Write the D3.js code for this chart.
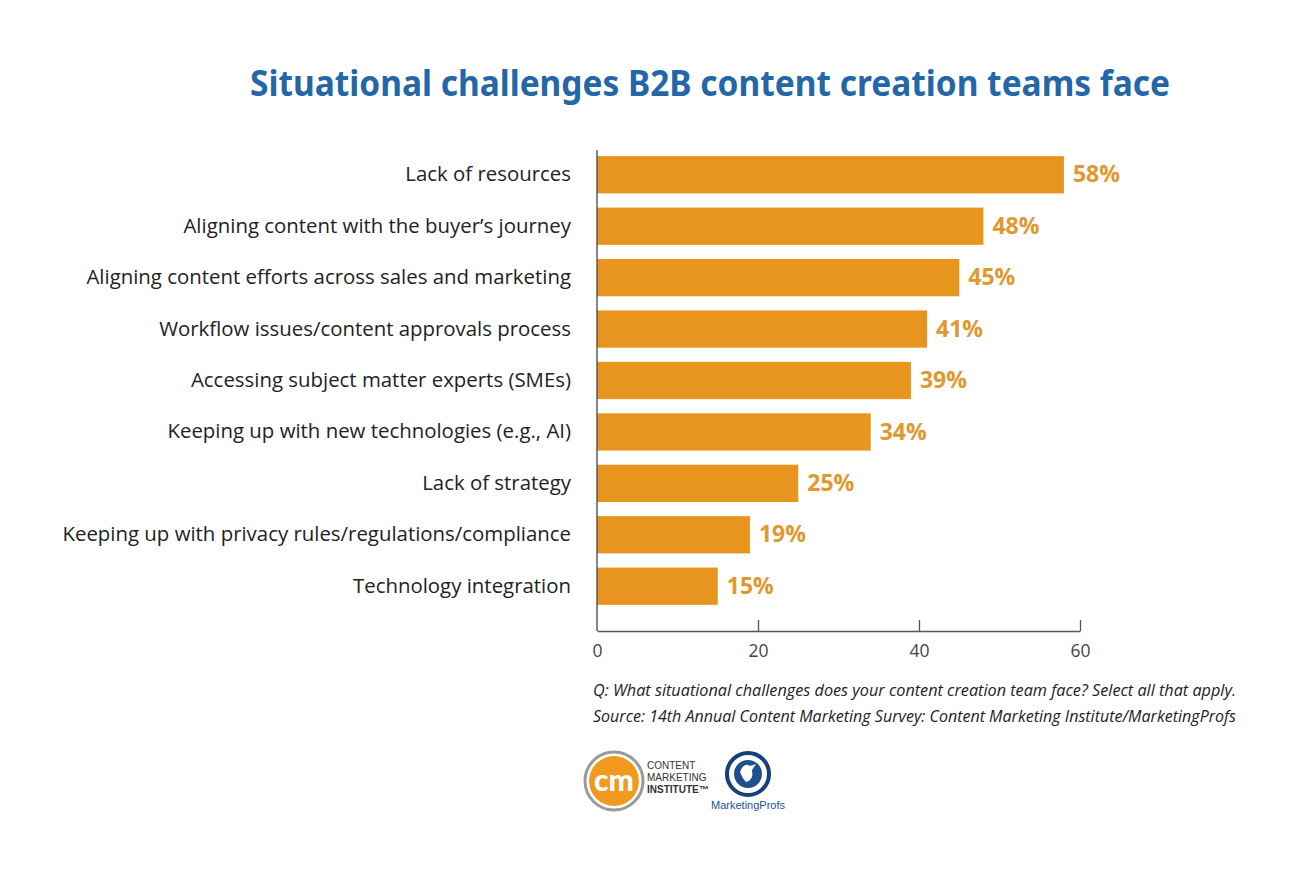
<!DOCTYPE html>
<html>
<head>
<meta charset="utf-8">
<script src="https://cdn.jsdelivr.net/npm/d3@7"></script>
<style>
  body { margin: 0; background: #fff; }
  svg { display: block; }
</style>
</head>
<body>
<div id="container"></div>
<script>
/* DATA */
const categories = [
  "Lack of resources",
  "Aligning content with the buyer’s journey",
  "Aligning content efforts across sales and marketing",
  "Workflow issues/content approvals process",
  "Accessing subject matter experts (SMEs)",
  "Keeping up with new technologies (e.g., AI)",
  "Lack of strategy",
  "Keeping up with privacy rules/regulations/compliance",
  "Technology integration"
];
const values = [58, 48, 45, 41, 39, 34, 25, 19, 15];
const xTicks = [0, 20, 40, 60];

/* CONSTANTS */
const width = 1300, height = 873;
const plotLeft = 597, plotRight = 1080, plotTop = 150, plotBottom = 631;
const barColor = "#e8951f", labelColor = "#e2972f";

const svg = d3.select("#container").append("svg")
  .attr("width", width)
  .attr("height", height);

// title
svg.append("text")
  .attr("x", 250).attr("y", 96)
  .attr("textLength", 920).attr("lengthAdjust", "spacingAndGlyphs")
  .style("font-family", "'Noto Sans', sans-serif")
  .style("font-weight", 700)
  .style("font-size", "35px")
  .style("fill", "#2467a6")
  .text("Situational challenges B2B content creation teams face");

/* SCALES */
const xScale = d3.scaleLinear().domain([0, 60]).range([plotLeft, plotRight]);
const yScale = d3.scaleBand()
  .domain(categories)
  .range([plotTop + 1, plotTop + 1 + 51 * 9])
  .paddingInner(0.275)
  .paddingOuter(0.1);

// bars
svg.selectAll(".bar")
  .data(values)
  .join("rect")
  .attr("class", "bar")
  .attr("x", xScale(0))
  .attr("y", (d, i) => yScale(categories[i]))
  .attr("width", d => xScale(d) - xScale(0))
  .attr("height", yScale.bandwidth())
  .attr("fill", barColor);

// value labels
svg.selectAll(".val")
  .data(values)
  .join("text")
  .attr("class", "val")
  .attr("x", d => xScale(d) + 9)
  .attr("y", (d, i) => yScale(categories[i]) + yScale.bandwidth() / 2)
  .attr("dy", "0.33em")
  .style("font-family", "'Open Sans', sans-serif")
  .style("font-weight", 700)
  .style("font-size", "23px")
  .style("fill", labelColor)
  .text(d => d + "%");

// category labels
svg.selectAll(".cat")
  .data(categories)
  .join("text")
  .attr("class", "cat")
  .attr("x", 571)
  .attr("y", d => yScale(d) + yScale.bandwidth() / 2)
  .attr("dy", "0.32em")
  .attr("text-anchor", "end")
  .style("font-family", "'Open Sans', sans-serif")
  .style("font-size", "20.4px")
  .style("fill", "#222")
  .text(d => d);

/* AXES */
const gx = svg.append("g")
  .attr("transform", `translate(0, ${plotBottom})`)
  .call(d3.axisBottom(xScale).tickValues(xTicks).tickSize(-11).tickPadding(10).tickSizeOuter(0));
gx.select(".domain").attr("stroke", "#555").attr("stroke-width", 1.3);
gx.selectAll(".tick line").attr("stroke", "#555").attr("stroke-width", 1.3);
gx.select(".tick:first-of-type line").remove();
gx.selectAll(".tick text")
  .attr("dy", "0.9em")
  .style("font-family", "'Open Sans', sans-serif")
  .style("font-size", "17.5px")
  .style("fill", "#444");

svg.append("line")
  .attr("x1", plotLeft).attr("x2", plotLeft)
  .attr("y1", plotTop).attr("y2", plotBottom)
  .attr("stroke", "#444").attr("stroke-width", 1.3);

// footnote
const notes = [
  "Q: What situational challenges does your content creation team face? Select all that apply.",
  "Source: 14th Annual Content Marketing Survey: Content Marketing Institute/MarketingProfs"
];
svg.selectAll(".note")
  .data(notes)
  .join("text")
  .attr("class", "note")
  .attr("x", 593)
  .attr("y", (d, i) => 696 + i * 26)
  .attr("textLength", 643)
  .attr("lengthAdjust", "spacingAndGlyphs")
  .style("font-family", "'Open Sans', sans-serif")
  .style("font-style", "italic")
  .style("font-size", "15.5px")
  .style("fill", "#222")
  .text(d => d);

/* LOGOS */
const cmi = svg.append("g").attr("transform", "translate(614, 781)");
cmi.append("circle").attr("r", 29).attr("fill", "#fff").attr("stroke", "#9a9a9a").attr("stroke-width", 3);
cmi.append("circle").attr("r", 25).attr("fill", "#f29a1f");
cmi.append("text")
  .attr("text-anchor", "middle").attr("dy", "0.32em")
  .style("font-family", "'Lato', sans-serif").style("font-weight", 900)
  .style("font-size", "30px").style("fill", "#fff")
  .text("cm");
cmi.selectAll(".cmi-t")
  .data(["CONTENT", "MARKETING", "INSTITUTE™"])
  .join("text")
  .attr("class", "cmi-t")
  .attr("x", 33)
  .attr("y", (d, i) => -12 + i * 12)
  .style("font-family", "'Liberation Sans', Arial, sans-serif")
  .style("font-size", "10px")
  .style("font-weight", (d, i) => i === 2 ? 700 : 400)
  .style("fill", "#333")
  .text(d => d);

const mp = svg.append("g").attr("transform", "translate(748, 774)");
mp.append("circle").attr("r", 21).attr("fill", "#fff").attr("stroke", "#173f7a").attr("stroke-width", 4);
mp.append("circle").attr("r", 14).attr("fill", "#1f4f8f");
mp.append("path")
  .attr("d", "M-8,-2 Q-4,-12 2,-8 L8,-10 L4,-4 Q6,6 -2,8 Q-6,4 -8,-2 Z")
  .attr("fill", "#fff");
mp.append("text")
  .attr("x", 0).attr("y", 35)
  .attr("text-anchor", "middle")
  .style("font-family", "'Liberation Sans', Arial, sans-serif")
  .style("font-size", "11px")
  .style("fill", "#1f4f8f")
  .text("MarketingProfs");
</script>
</body>
</html>
